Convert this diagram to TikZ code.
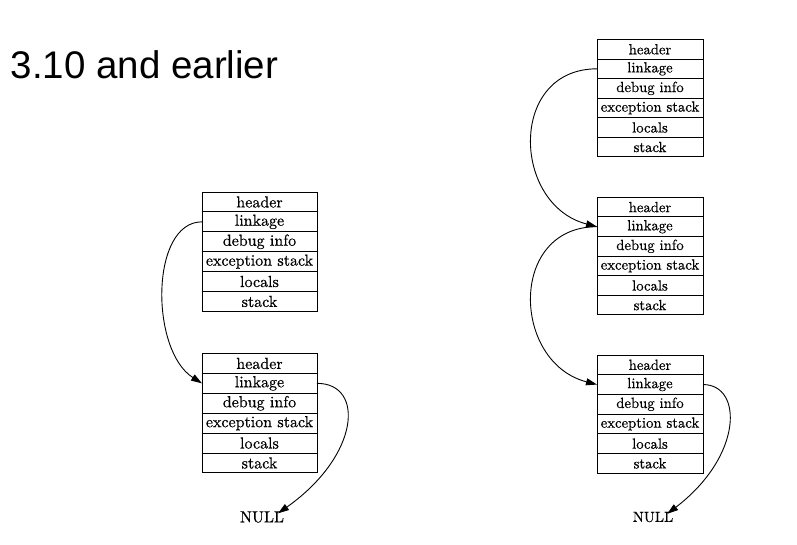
\documentclass[tikz,border=0pt]{standalone}
\usepackage{fontspec}
\newfontfamily\titlefont{Liberation Sans}
\newfontfamily\cellfont{lmroman10-regular}[Extension=.otf, FakeBold=0.5]
\usetikzlibrary{arrows.meta}
\tikzset{
  cell/.style={draw, line width=0.9pt, inner sep=0pt, outer sep=0pt},
  link/.style={draw, line width=0.9pt, -{Triangle[length=11pt,width=7pt]}},
  nulltxt/.style={inner sep=0pt, outer sep=0pt}
}
\newcommand\fstack[6]{%
  \foreach \lab [count=\i] in {header,linkage,debug info,exception stack,locals,stack}{
    \node[cell, minimum width=#4pt, minimum height=#5pt, font=\cellfont\fontsize{#6}{#6}\selectfont]
      (#1-\i) at ({#2+#4/2}, {#3+(\i-0.5)*#5}) {\lab};
  }}
\begin{document}
\begin{tikzpicture}[x=1pt, y=-1pt]
\useasboundingbox (0,0) rectangle (797,545);
\node[anchor=base west, inner sep=0pt, font=\titlefont\fontsize{38.5}{40}\selectfont] (title) at (10.5,78.3) {3.10 and earlier};
% left column
\fstack{L1}{202}{192}{115}{19.9}{16}
\fstack{L2}{202}{353.5}{115}{19.9}{16}
\node[nulltxt, font=\cellfont\fontsize{16}{16}\selectfont] (nl) at (262,517) {NULL};
% right column
\fstack{A}{597}{39.5}{106}{19.55}{14.7}
\fstack{B}{597}{197.3}{106}{19.6}{14.7}
\fstack{C}{597}{355}{106}{19.7}{14.7}
\node[nulltxt, font=\cellfont\fontsize{14.7}{15}\selectfont] (nr) at (653,517) {NULL};
% connectors
\draw[link] (L1-2.west) .. controls +(-52,0) and +(-52,-33) .. (L2-2.west);
\draw[link] (L2-2.east) .. controls +(48,0) and +(82,-58) .. ([xshift=-6pt,yshift=-2pt]nl.north east);
\draw[link] (A-2.west) .. controls +(-89,0) and +(-85,-22) .. (B-2.west);
\draw[link] (B-2.west) .. controls +(-89,0) and +(-85,-22) .. (C-2.west);
\draw[link] (C-2.east) .. controls +(40,0) and +(76,-58) .. ([xshift=-6pt,yshift=-2pt]nr.north east);
\end{tikzpicture}
\end{document}
